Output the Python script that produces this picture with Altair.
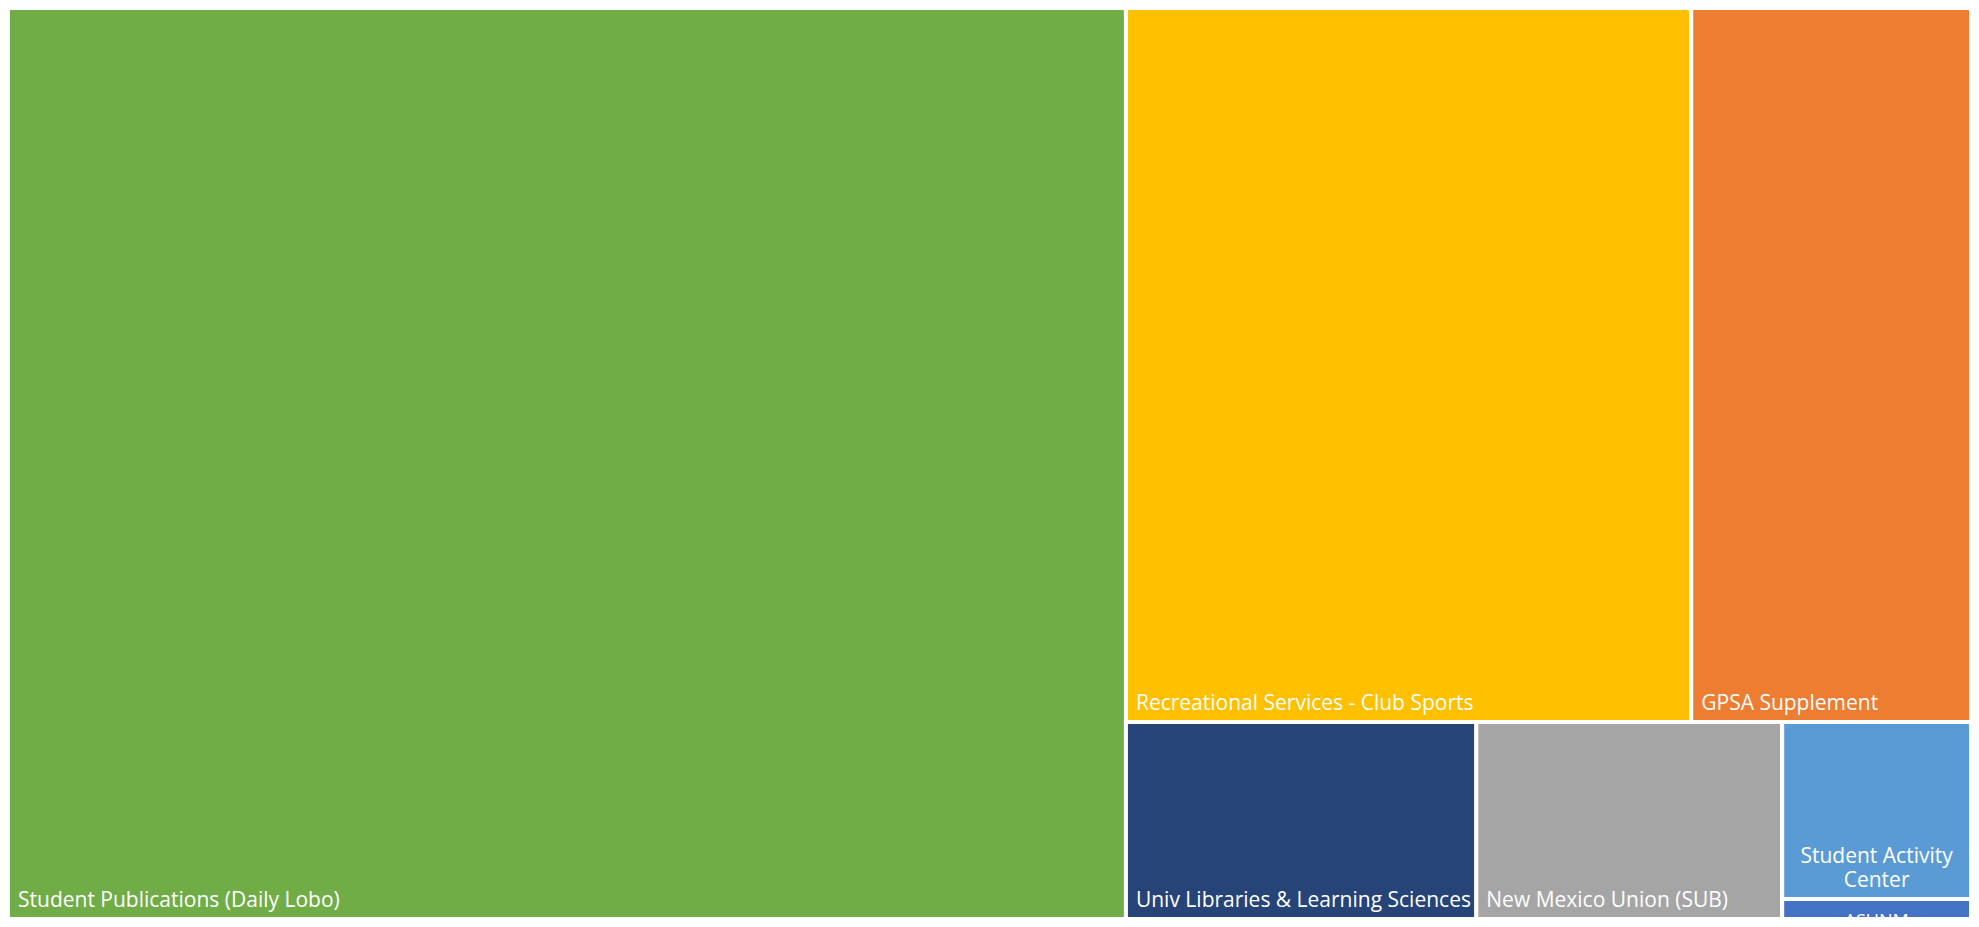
import altair as alt
import pandas as pd

# ---- data ----
categories = [
    "Student Publications (Daily Lobo)",
    "Recreational Services - Club Sports",
    "GPSA Supplement",
    "Univ Libraries & Learning Sciences",
    "New Mexico Union (SUB)",
    "Student Activity Center",
    "ASUNM",
]
values = [569.5, 225.7, 111.7, 38.6, 33.7, 18.7, 2.1]
colors = ["#70AD47", "#FFC000", "#ED7D31", "#264478", "#A5A5A5", "#5B9BD5", "#4472C4"]

# ---- squarified treemap layout (d3 squarify, golden ratio) ----
W, H = 1979.0, 927.0
PW, PH = 1963, 911          # plot size in pixels
PHI = (1 + 5 ** 0.5) / 2


def squarify(vals, x0, y0, x1, y1, ratio=PHI):
    rects = [None] * len(vals)
    n = len(vals)
    i0 = i1 = 0
    value = float(sum(vals))
    while i0 < n:
        dx, dy = x1 - x0, y1 - y0
        sumv = vals[i1]
        i1 += 1
        minv = maxv = sumv
        alpha = max(dy / dx, dx / dy) / (value * ratio)
        beta = sumv * sumv * alpha
        minr = max(maxv / beta, beta / minv)
        while i1 < n:
            nv = vals[i1]
            s2 = sumv + nv
            mn, mx = min(minv, nv), max(maxv, nv)
            beta = s2 * s2 * alpha
            nr = max(mx / beta, beta / mn)
            if nr > minr:
                break
            sumv, minv, maxv, minr = s2, mn, mx, nr
            i1 += 1
        row = list(range(i0, i1))
        if dx < dy:
            ny = y0 + dy * sumv / value if i1 < n else y1
            cx = x0
            for i in row:
                w = (x1 - x0) * vals[i] / sumv
                rects[i] = (cx, y0, cx + w, ny)
                cx += w
            y0 = ny
        else:
            nx = x0 + dx * sumv / value if i1 < n else x1
            cy = y0
            for i in row:
                h = (y1 - y0) * vals[i] / sumv
                rects[i] = (x0, cy, nx, cy + h)
                cy += h
            x0 = nx
        value -= sumv
        i0 = i1
    return rects


rects = squarify(values, 0.0, 0.0, W, H)

FS = 21
LH = 24
CHAR_W = 0.46 * FS
rows = []
for cat, val, (a, b, c, d) in zip(categories, values, rects):
    cw, ch = c - a, d - b
    nlines = 1
    if ch < 40:
        kind = "clipped"
        lab = cat
    elif len(cat) * CHAR_W > cw - 14:
        kind = "wrapped"
        lines, cur = [], ""
        for wd in cat.split(" "):
            test = (cur + " " + wd).strip()
            if len(test) * CHAR_W > cw - 14 and cur:
                lines.append(cur)
                cur = wd
            else:
                cur = test
        lines.append(cur)
        nlines = len(lines)
        lab = "\n".join(lines)
    else:
        kind = "single"
        lab = cat
    # first text line sits (nlines-1) line heights above the last one
    ylab = d - (nlines - 1) * LH * H / PH
    rows.append(dict(cat=cat, value=val, x0=a, y0=b, x1=c, y1=d,
                     xc=(a + c) / 2, ylab=ylab, label=lab, kind=kind))

df = pd.DataFrame(rows)

xs = alt.Scale(domain=[0, W], nice=False, zero=False)
ys = alt.Scale(domain=[0, H], nice=False, zero=False, reverse=True)

base = alt.Chart(df)

cells = base.mark_rect(stroke="white", strokeWidth=4).encode(
    x=alt.X("x0:Q", scale=xs, axis=None),
    x2="x1:Q",
    y=alt.Y("y0:Q", scale=ys, axis=None),
    y2="y1:Q",
    color=alt.Color("cat:N", scale=alt.Scale(domain=categories, range=colors), legend=None),
    tooltip=["cat:N", "value:Q"],
)

single = base.transform_filter(alt.datum.kind == "single").mark_text(
    align="left", baseline="alphabetic", dx=10, dy=-12,
    font="Open Sans", fontSize=FS, color="white",
).encode(
    x=alt.X("x0:Q", scale=xs, axis=None),
    y=alt.Y("ylab:Q", scale=ys, axis=None),
    text="label:N",
)

wrapped = base.transform_filter(alt.datum.kind == "wrapped").mark_text(
    align="center", baseline="alphabetic", dy=-12, lineBreak="\n", lineHeight=LH,
    font="Open Sans", fontSize=FS, color="white",
).encode(
    x=alt.X("xc:Q", scale=xs, axis=None),
    y=alt.Y("ylab:Q", scale=ys, axis=None),
    text="label:N",
)

clipped = base.transform_filter(alt.datum.kind == "clipped").mark_text(
    align="center", baseline="top", dy=-6, clip=True,
    font="Open Sans", fontSize=FS - 3, color="white",
).encode(
    x=alt.X("xc:Q", scale=xs, axis=None),
    y=alt.Y("y1:Q", scale=ys, axis=None),
    text="label:N",
)

chart = alt.layer(cells, single, wrapped, clipped).properties(
    width=PW, height=PH, padding=0,
    autosize=alt.AutoSizeParams(type="none"),
).configure_view(strokeWidth=0)

chart.save("out.html", embed_options={"renderer": "svg", "actions": False})
